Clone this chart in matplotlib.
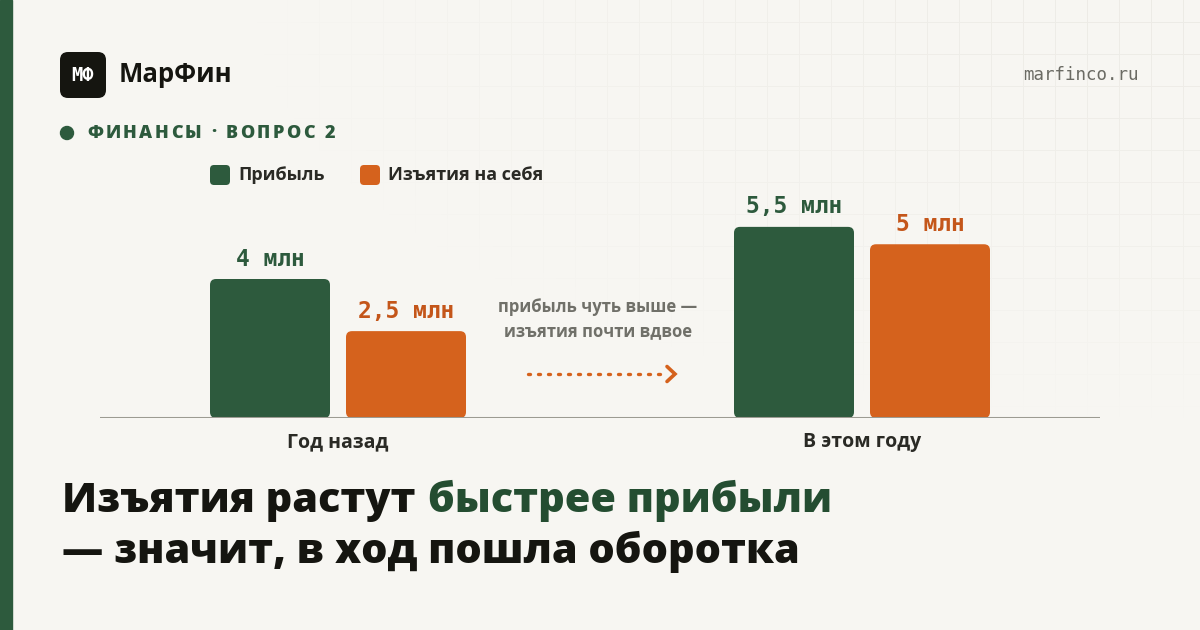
import numpy as np
import matplotlib
matplotlib.use("Agg")
import matplotlib.pyplot as plt
from matplotlib.patches import FancyBboxPatch, Rectangle, Circle

# ---- data ----
categories = ["Год назад", "В этом году"]
series_names = ["Прибыль", "Изъятия на себя"]
profit = [4.0, 5.5]
withdrawals = [2.5, 5.0]
value_labels_profit = ["4 млн", "5,5 млн"]
value_labels_withdr = ["2,5 млн", "5 млн"]

# ---- style ----
BG = "#f7f6f2"
GREEN = "#2d5a3d"
ORANGE = "#d5621d"
ORANGE_TXT = "#c4561a"
INK = "#151510"
DARK = "#2a2a25"
GRAY = "#707069"
SANS = "Open Sans"
MONO = "DejaVu Sans Mono"

W, H = 1200, 630
fig = plt.figure(figsize=(W / 100, H / 100), dpi=100, facecolor=BG)

# background / decoration axes in pixel coordinates
bg = fig.add_axes([0, 0, 1, 1], zorder=0)
bg.axis("off")
bg.set_facecolor(BG)

# faint grid fading from top-right
yy, xx = np.mgrid[0:H, 0:W]
line = ((xx % 32) == 31) | ((yy % 32) == 22)
d = np.hypot((xx - 1200) / 950.0, yy / 420.0)
fade = np.clip(1 - d, 0, 1) ** 0.8
img = np.zeros((H, W, 4))
img[..., 0] = 0.80
img[..., 1] = 0.79
img[..., 2] = 0.75
img[..., 3] = line * fade * 0.25
bg.imshow(img, extent=(0, W, H, 0), interpolation="nearest", zorder=0.5)
bg.set_xlim(0, W)
bg.set_ylim(H, 0)

# left stripe
bg.add_patch(Rectangle((0, 0), 12, H, color=GREEN, zorder=1))

# logo
bg.add_patch(FancyBboxPatch((60, 52), 46, 46, boxstyle="round,pad=0,rounding_size=8",
                            fc="#151510", ec="none", zorder=2))
bg.text(83, 75.5, "МФ", color="white", fontsize=13.5, fontweight="bold", family=MONO,
        ha="center", va="center", zorder=3)
bg.text(119, 75, "МарФин", color=INK, fontsize=18.5, fontweight="bold", family=SANS,
        ha="left", va="center", zorder=3)
bg.text(1139, 75, "marfinco.ru", color="#6b6b64", fontsize=12.6, family=MONO,
        ha="right", va="center", zorder=3)

# section label with letter spacing
bg.add_patch(Circle((67, 133), 6.5, color=GREEN, zorder=2))
renderer = fig.canvas.get_renderer()
label = "ФИНАНСЫ · ВОПРОС 2"
x0, x1 = 87, 335
tmp = []
widths = []
for ch in label:
    if ch == " ":
        widths.append(5.0)
        tmp.append(None)
        continue
    t = bg.text(0, 133, ch, color=GREEN, fontsize=13, fontweight="heavy", family=SANS,
                ha="left", va="center", zorder=3)
    bb = t.get_window_extent(renderer)
    widths.append(bb.width)
    tmp.append(t)
gap = (x1 - x0 - sum(widths)) / (len(label) - 1)
cx = x0
for ch, w, t in zip(label, widths, tmp):
    if t is not None:
        t.set_x(cx)
    cx += w + gap

# legend
for i, (name, col) in enumerate(zip(series_names, [GREEN, ORANGE])):
    lx = [210, 360][i]
    bg.add_patch(FancyBboxPatch((lx, 165), 20, 20, boxstyle="round,pad=0,rounding_size=4",
                                fc=col, ec="none", zorder=2))
    bg.text(lx + 28, 175, name, color=DARK, fontsize=13.0, fontweight="bold", family=SANS,
            ha="left", va="center", zorder=3)

# annotation between groups
bg.text(598, 307, "прибыль чуть выше —", color=GRAY, fontsize=12, fontweight="bold",
        family=SANS, ha="center", va="center", zorder=3)
bg.text(598, 331, "изъятия почти вдвое", color=GRAY, fontsize=12, fontweight="bold",
        family=SANS, ha="center", va="center", zorder=3)
bg.plot([528, 664], [374, 374], color=ORANGE, lw=2.4, linestyle=(0, (0.6, 2.4)),
        solid_capstyle="round", dash_capstyle="round", zorder=3)
bg.plot([667, 675, 667], [366.5, 374, 381.5], color=ORANGE, lw=2.6,
        solid_capstyle="round", solid_joinstyle="miter", zorder=3)

# headline
HS = 29.8
t1 = bg.text(62, 501, "Изъятия растут", color=INK, fontsize=HS, fontweight="heavy",
             family=SANS, ha="left", va="center", zorder=3)
bb = t1.get_window_extent(renderer)
bg.text(62 + bb.width + 12, 501, "быстрее прибыли", color="#244d31", fontsize=HS,
        fontweight="heavy", family=SANS, ha="left", va="center", zorder=3)
bg.text(62, 552, "— значит, в ход пошла оборотка", color=INK, fontsize=HS,
        fontweight="heavy", family=SANS, ha="left", va="center", zorder=3)

# ---- chart axes ----
ax_l, ax_r, ax_top, ax_base = 100, 1100, 140, 418
ax = fig.add_axes([ax_l / W, 1 - ax_base / H, (ax_r - ax_l) / W, (ax_base - ax_top) / H],
                  zorder=2)
ax.set_facecolor("none")
ax.set_ylim(0, 8)
half = 238 / 524
ax.set_xlim(-half, 1 + half)
for s in ax.spines.values():
    s.set_visible(False)
ax.set_xticks([])
ax.set_yticks([])

xpos = np.arange(len(categories))
off = 68 / 524
bw = 120 / 524
px_per_x = 524
px_per_y = 278 / 8
aspect = (1 / px_per_y) / (1 / px_per_x)

def rounded_bars(vals, shift, color):
    bars = ax.bar(xpos + shift, vals, width=bw, color=color)
    for b in bars:
        b.set_visible(False)
        p = FancyBboxPatch((b.get_x(), b.get_y()), b.get_width(), b.get_height(),
                           boxstyle="round,pad=0,rounding_size=%f" % (6 / px_per_x),
                           mutation_aspect=aspect, fc=color, ec="none", zorder=3)
        ax.add_patch(p)
    return bars

rounded_bars(profit, -off, GREEN)
rounded_bars(withdrawals, off, ORANGE)

for x, v, lab in zip(xpos - off, profit, value_labels_profit):
    ax.annotate(lab, (x, v), xytext=(0, 20), textcoords="offset pixels", ha="center",
                va="center", fontsize=16.5, fontweight="bold", family=MONO, color=GREEN)
for x, v, lab in zip(xpos + off, withdrawals, value_labels_withdr):
    ax.annotate(lab, (x, v), xytext=(0, 20), textcoords="offset pixels", ha="center",
                va="center", fontsize=16.5, fontweight="bold", family=MONO, color=ORANGE_TXT)

ax.axhline(0, color="#9c9b92", lw=2.2, zorder=4)
for x, c in zip(xpos, categories):
    ax.annotate(c, (x, 0), xytext=(0, -24), textcoords="offset pixels", ha="center",
                va="center", fontsize=14, fontweight="bold", family=SANS, color=DARK)

fig.savefig("out.png", dpi=100, facecolor=BG)
